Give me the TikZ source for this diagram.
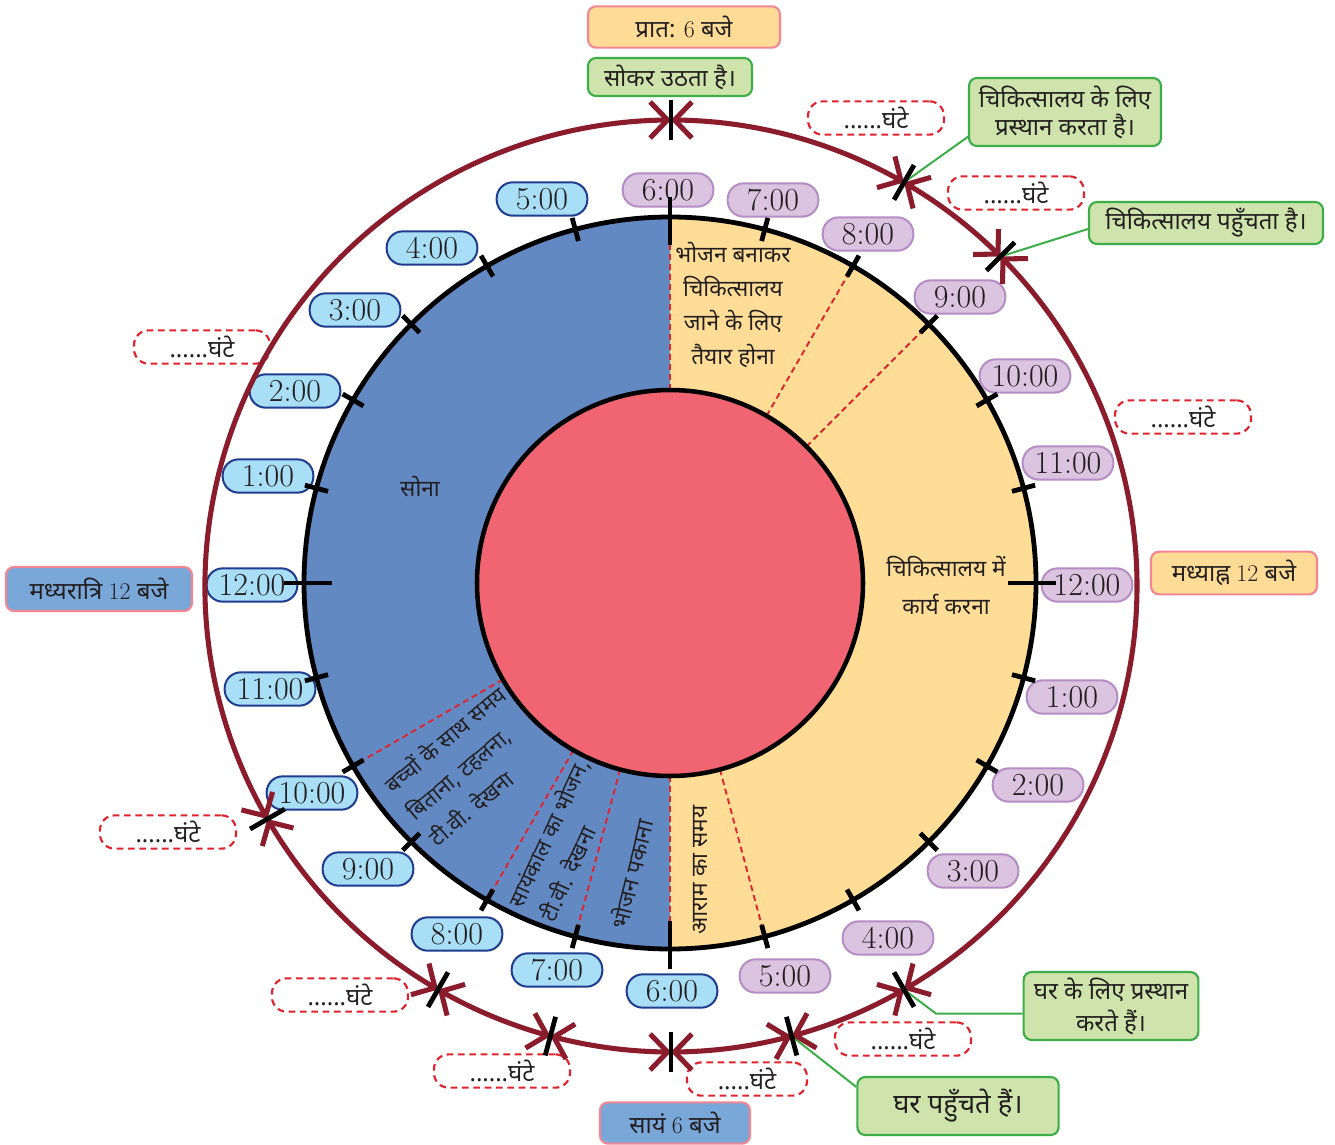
\documentclass[tikz,border=0pt]{standalone}
\usepackage{fontspec}
\newfontfamily\dev[Script=Devanagari]{Noto Sans}
\usetikzlibrary{arrows.meta,bending,calc}
\definecolor{sectorblue}{HTML}{6389C3}
\definecolor{sectoryel}{HTML}{FFDD96}
\definecolor{innerred}{HTML}{F06571}
\definecolor{outred}{HTML}{8B1C2B}
\definecolor{dashred}{HTML}{E0232D}
\definecolor{purfill}{HTML}{DBC4DF}
\definecolor{purline}{HTML}{B68CC5}
\definecolor{bluefill}{HTML}{A8DEF6}
\definecolor{blueline}{HTML}{203C8E}
\definecolor{orfill}{HTML}{FFDC96}
\definecolor{pinkline}{HTML}{F28794}
\definecolor{grfill}{HTML}{CFE4AC}
\definecolor{grline}{HTML}{3DAE47}
\definecolor{nightfill}{HTML}{79A7D8}
\definecolor{txt}{HTML}{231F20}
\tikzset{
  hourP/.style={fill=purfill, draw=purline, line width=1.5pt, rounded corners=12pt,
    minimum width=68pt, minimum height=25pt, inner sep=0pt, text=txt,
    font=\fontsize{24}{24}\selectfont},
  hourB/.style={hourP, fill=bluefill, draw=blueline},
  devt/.style={text=txt, font=\dev\fontsize{18}{25.5}\selectfont, align=center},
  sect/.style={text=txt, font=\dev\fontsize{17}{25.5}\selectfont, align=center},
  obox/.style={devt, fill=orfill, draw=pinkline, line width=1.6pt, rounded corners=6pt, inner sep=0pt},
  gbox/.style={devt, fill=grfill, draw=grline, line width=1.6pt, rounded corners=6pt, inner sep=0pt},
  nbox/.style={obox, fill=nightfill},
  hbox/.style={devt, draw=dashred, line width=1.6pt, dash pattern=on 5pt off 3.5pt,
    rounded corners=11pt, minimum width=102pt, minimum height=25pt, inner sep=0pt},
  seg/.style={dashred, line width=1.4pt, dash pattern=on 4.5pt off 3pt},
  tickl/.style={line width=3.6pt, black},
  oarc/.style={outred, line width=3.8pt,
    arrows={Straight Barb[length=13pt,width=27pt]-Straight Barb[length=13pt,width=27pt]}},
  conn/.style={grline, line width=1.5pt},
}
\begin{document}
\begin{tikzpicture}[x=0.75pt,y=-0.75pt]
\useasboundingbox (0,0) rectangle (1335,1145);
\fill[white] (0,0) rectangle (1335,1145);
\coordinate (O) at (670,583);
\coordinate (Q) at (671,586);
% annulus
\fill[sectoryel] (O) circle[radius=366];
\fill[sectorblue] ($(O)+(90:366)$) arc[start angle=90,end angle=270,radius=366] -- cycle;
\foreach \a in {-90,-60,-45,75,90,105,120,150}
  \draw[seg] ($(O)+(\a:193)$) -- ($(O)+(\a:366)$);
\filldraw[fill=innerred, draw=black, line width=3.4pt] (O) circle[radius=193];
\draw[line width=3.6pt] (O) circle[radius=366];
% sector texts
\node[sect] (t1) at (733,305) {भोजन बनाकर\\चिकित्सालय\\जाने के लिए\\तैयार होना};
\node[sect] (t2) at (420,487) {सोना};
\node[sect, font=\dev\fontsize{17}{28.5}\selectfont] (t3) at (946,585) {चिकित्सालय में\\कार्य करना};
\node[sect, align=left, rotate=40, font=\dev\fontsize{16.5}{26}\selectfont] (t4) at (467,766) {बच्चों के साथ समय\\बिताना, टहलना,\\टी.वी. देखना};
\node[sect, align=left, rotate=65, font=\dev\fontsize{16.5}{26}\selectfont] (t5) at (564,840) {सायंकाल का भोजन,\\टी.वी. देखना};
\node[sect, rotate=76] (t6) at (631,874) {भोजन पकाना};
\node[sect, rotate=90] (t7) at (700,870) {आराम का समय};
% hour labels
\node[hourP] (p6) at (668,190) {6:00};
\node[hourP] (p7) at (773,200) {7:00};
\node[hourP] (p8) at (868,234) {8:00};
\node[hourP] (p9) at (960,297) {9:00};
\node[hourP] (p10) at (1025,376) {10:00};
\node[hourP] (p11) at (1068,463) {11:00};
\node[hourP] (p12) at (1087,585) {12:00};
\node[hourP] (p13) at (1072,697) {1:00};
\node[hourP] (p14) at (1038,785) {2:00};
\node[hourP] (p15) at (973,871) {3:00};
\node[hourP] (p16) at (888,938) {4:00};
\node[hourP] (p17) at (785,976) {5:00};
\node[hourB] (b6) at (672,991) {6:00};
\node[hourB] (b7) at (557,970) {7:00};
\node[hourB] (b8) at (457,934) {8:00};
\node[hourB] (b9) at (368,869) {9:00};
\node[hourB] (b10) at (312,793) {10:00};
\node[hourB] (b11) at (270,689) {11:00};
\node[hourB] (b12) at (252,585) {12:00};
\node[hourB] (b1) at (268,476) {1:00};
\node[hourB] (b2) at (295,391) {2:00};
\node[hourB] (b3) at (355,310) {3:00};
\node[hourB] (b4) at (432,248) {4:00};
\node[hourB] (b5) at (542,199) {5:00};
% ticks
\foreach \h in {1,...,23}{
  \pgfmathsetmacro{\ang}{15*\h-90}
  \draw[tickl] ($(O)+(\ang:354)$) -- ($(O)+(\ang:378)$);
}
\foreach \ang in {-90,0,90,180}
  \draw[tickl] ($(O)+(\ang:338)$) -- ($(O)+(\ang:386)$);
% outer circle markers
\foreach \a/\n in {-90/mt,-60/ma,-45/mb,60/mc,75/md,90/me,105/mf,120/mg,150/mh}
  \coordinate (\n) at ($(Q)+(\a:466)$);
% boxes
\node[obox, minimum width=144pt, minimum height=31pt] (dawn) at (684,27) {प्रात: {\rmfamily 6} बजे};
\node[gbox, minimum width=123pt, minimum height=28.5pt] (wake) at (670,77) {सोकर उठता है।};
\node[gbox, minimum width=144pt, minimum height=51pt, font=\dev\fontsize{18}{21}\selectfont] (g1) at (1065,112) {चिकित्सालय के लिए\\प्रस्थान करता है।};
\node[gbox, minimum width=175.5pt, minimum height=31.5pt] (g2) at (1206,223) {चिकित्सालय पहुँचता है।};
\node[obox, minimum width=124.5pt, minimum height=32pt] (noon) at (1234,573) {मध्याह्न {\rmfamily 12} बजे};
\node[nbox, minimum width=139.5pt, minimum height=33pt] (night) at (99,589) {मध्यरात्रि {\rmfamily 12} बजे};
\node[gbox, minimum width=131pt, minimum height=51pt, font=\dev\fontsize{18}{24}\selectfont] (g3) at (1111,1006) {घर के लिए प्रस्थान\\करते हैं।};
\node[gbox, minimum width=151pt, minimum height=43.5pt, font=\dev\fontsize{20.5}{22}\selectfont] (g4) at (958,1106) {घर पहुँचते हैं।};
\node[nbox, minimum width=112.5pt, minimum height=31pt] (eve) at (675,1123) {सायं {\rmfamily 6} बजे};
% dashed hour boxes
\node[hbox] (h1) at (876,118) {......घंटे};
\node[hbox] (h2) at (1016,193) {......घंटे};
\node[hbox] (h3) at (202,347) {......घंटे};
\node[hbox] (h4) at (1183,417) {......घंटे};
\node[hbox] (h5) at (168,832) {......घंटे};
\node[hbox] (h6) at (340,995) {......घंटे};
\node[hbox] (h7) at (502,1071) {......घंटे};
\node[hbox, minimum width=90pt] (h8) at (747,1079) {.....घंटे};
\node[hbox] (h9) at (903,1039) {......घंटे};
% connectors
\draw[conn] (ma) -- ($(g1.south west)+(1,-11)$);
\draw[conn] (mb) -- ($(g2.west)+(0,6)$);
\draw[conn] (mc) -- ++(32,24) coordinate (k) -- (k -| g3.west);
\draw[conn] (md) -- ($(g4.north west)+(0,11)$);
% outer arcs
\draw[oarc] (mt) arc[start angle=-90,end angle=-60,radius=466];
\draw[oarc] (ma) arc[start angle=-60,end angle=-45,radius=466];
\draw[oarc] (mb) arc[start angle=-45,end angle=60,radius=466];
\draw[oarc] (mc) arc[start angle=60,end angle=75,radius=466];
\draw[oarc] (md) arc[start angle=75,end angle=90,radius=466];
\draw[oarc] (me) arc[start angle=90,end angle=105,radius=466];
\draw[oarc] (mf) arc[start angle=105,end angle=120,radius=466];
\draw[oarc] (mg) arc[start angle=120,end angle=150,radius=466];
\draw[oarc] (mh) arc[start angle=150,end angle=270,radius=466];
\foreach \a in {-90,-60,-45,60,75,90,105,120,150}
  \draw[tickl] ($(Q)+(\a:446)$) -- ($(Q)+(\a:486)$);
\end{tikzpicture}
\end{document}
